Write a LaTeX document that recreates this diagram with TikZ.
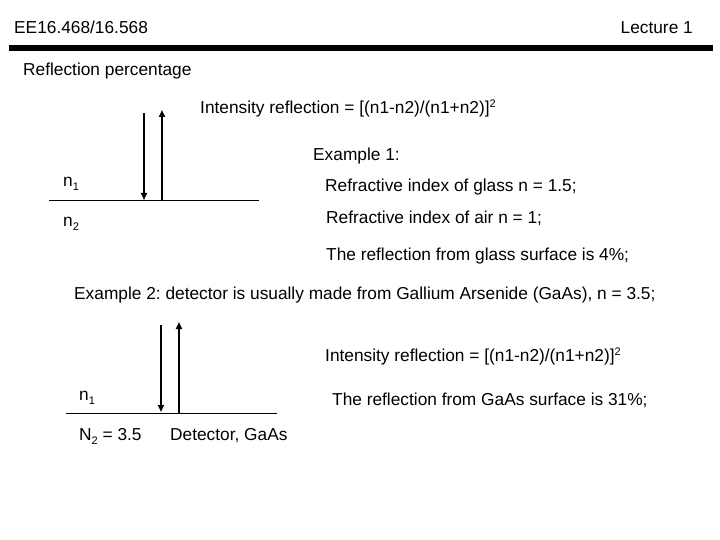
\documentclass[tikz,border=0pt]{standalone}
\usepackage{fontspec}
\setmainfont{Liberation Sans}
\usetikzlibrary{arrows.meta}
\newcommand{\lowsub}[1]{\raisebox{-4pt}{\fontsize{11}{12}\selectfont #1}}
\newcommand{\hisup}[1]{\raisebox{6pt}{\fontsize{11}{12}\selectfont #1}}
\frenchspacing
\begin{document}
\begin{tikzpicture}[x=1pt,y=-1pt,
  txt/.style={anchor=base west,inner sep=0pt,font=\fontsize{17.3}{20}\selectfont},
  ray/.style={line width=1.8pt,-{Triangle[length=7pt,width=6pt]}},
  surf/.style={line width=1pt}]
\useasboundingbox (0,0) rectangle (720,540);
\node[txt] (hdr) at (14,34) {EE16.468/16.568};
\node[txt,anchor=base east] (lec) at (693,34) {Lecture 1};
\fill (9,45) rectangle (713,51);
\node[txt] (title) at (23,76) {Reflection percentage};
% diagram 1
\coordinate (s1a) at (49,201);
\coordinate (s1b) at (259,201);
\draw[surf] (s1a) -- (s1b);
\coordinate (d1s) at (144,113);
\coordinate (d1e) at (144,200);
\coordinate (u1s) at (162,201);
\coordinate (u1e) at (162,110);
\draw[ray] (d1s) -- (d1e);
\draw[ray] (u1s) -- (u1e);
\node[txt] (n1a) at (63,187) {n\lowsub{1}};
\node[txt] (n2a) at (63,226) {n\lowsub{2}};
\node[txt] (f1) at (200,114) {Intensity reflection = [(n1-n2)/(n1+n2)]\hisup{2}};
\node[txt] (ex1) at (313,161) {Example 1:};
\node[txt] (g) at (325,192) {Refractive index of glass n = 1.5;};
\node[txt] (a) at (326,223) {Refractive index of air n = 1;};
\node[txt] (r1) at (326,260) {The reflection from glass surface is 4\%;};
\node[txt] (ex2) at (74,299) {Example 2: detector is usually made from Gallium Arsenide (GaAs), n = 3.5;};
% diagram 2
\coordinate (s2a) at (66,413);
\coordinate (s2b) at (277,413);
\draw[surf] (s2a) -- (s2b);
\coordinate (d2s) at (161,325);
\coordinate (d2e) at (161,412);
\coordinate (u2s) at (179,413);
\coordinate (u2e) at (179,322);
\draw[ray] (d2s) -- (d2e);
\draw[ray] (u2s) -- (u2e);
\node[txt] (n1b) at (79,400) {n\lowsub{1}};
\node[txt] (n2b) at (79,440) {N\lowsub{2} = 3.5};
\node[txt] (det) at (170,440) {Detector, GaAs};
\node[txt] (f2) at (325,361) {Intensity reflection = [(n1-n2)/(n1+n2)]\hisup{2}};
\node[txt] (r2) at (332,405) {The reflection from GaAs surface is 31\%;};
\end{tikzpicture}
\end{document}
